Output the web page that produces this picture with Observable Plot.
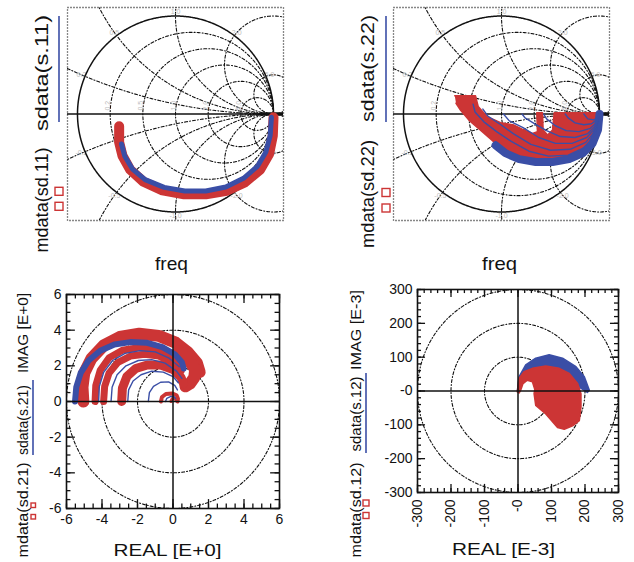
<!DOCTYPE html>
<html><head><meta charset="utf-8">
<script src="https://cdn.jsdelivr.net/npm/d3@7"></script>
<script src="https://cdn.jsdelivr.net/npm/@observablehq/plot@0.6"></script>
<style>
body{margin:0;background:#fff;}
#wrap{position:relative;width:634px;height:562px;overflow:hidden;font-family:"Liberation Sans",Arial,sans-serif;background:#fff;}
#wrap > svg{position:absolute;margin:0;}
</style></head><body><div id="wrap"></div>
<script>
const RED = "#cc3535", BLUE = "#3a4ea6";

// ---------- Smith chart grid values ----------
const smithR = [0.2, 0.5, 1, 2, 5];
const smithX = [0.2, 0.5, 1, 2, 5];
const smithLabels = ["0.2", "0.5", "1.0", "2.0", "5.0"];

// ---------- S11 (Gamma re, im) ----------
const s11Red = [[-0.575,-0.126],[-0.575,-0.289],[-0.541,-0.426],[-0.463,-0.568],[-0.327,-0.691],[-0.133,-0.779],[0.088,-0.82],[0.309,-0.82],[0.523,-0.783],[0.707,-0.698],[0.864,-0.568],[0.955,-0.408],[0.993,-0.221],[1.0,-0.034]];
const s11Blue = [[-0.551,-0.306],[-0.517,-0.432],[-0.439,-0.562],[-0.31,-0.67],[-0.116,-0.749],[0.095,-0.786],[0.309,-0.786],[0.513,-0.745],[0.694,-0.657],[0.836,-0.534],[0.921,-0.391],[0.966,-0.221],[0.979,-0.034]];

// ---------- S22 ----------
const s22RedArea = [[-0.477,0.185],[-0.265,0.185],[-0.238,0.076],[-0.146,-0.027],[-0.009,-0.088],[0.128,-0.113],[0.231,-0.164],[0.316,-0.198],[0.367,-0.181],[0.36,0.014],[0.418,0.014],[0.425,-0.164],[0.47,-0.215],[0.521,-0.164],[0.538,0.014],[0.999,0.014],[0.993,-0.13],[0.949,-0.266],[0.863,-0.352],[0.744,-0.41],[0.59,-0.444],[0.418,-0.454],[0.247,-0.444],[0.077,-0.386],[-0.06,-0.3],[-0.197,-0.181],[-0.333,-0.062],[-0.419,0.041],[-0.464,0.11]];
const s22BlueBand = [[1.0,0],[0.985,-0.16],[0.93,-0.3],[0.83,-0.4],[0.69,-0.46],[0.52,-0.49],[0.35,-0.49],[0.18,-0.46],[0.04,-0.4],[-0.06,-0.32]];
const s22Blue1 = [[1,0],[0.96,-0.2],[0.85,-0.34],[0.68,-0.42],[0.48,-0.43],[0.28,-0.38],[0.1,-0.28],[-0.05,-0.18],[-0.18,-0.08],[-0.27,0.02],[-0.29,0.1]];
const s22Blue2 = [[1,0],[0.96,-0.17],[0.86,-0.29],[0.7,-0.36],[0.5,-0.37],[0.3,-0.31],[0.12,-0.2],[-0.02,-0.1],[-0.14,-0.02],[-0.19,0.05]];
const s22Blue3 = [[1,0],[0.96,-0.14],[0.87,-0.24],[0.72,-0.3],[0.55,-0.3],[0.38,-0.24],[0.22,-0.14],[0.08,-0.07],[0.02,0.0]];
const s22Blue4 = [[1,0],[0.96,-0.12],[0.88,-0.2],[0.75,-0.24],[0.6,-0.23],[0.46,-0.17],[0.34,-0.1],[0.24,-0.04],[0.21,0.0]];
const s22Blue5 = [[1,0],[0.97,-0.09],[0.9,-0.15],[0.79,-0.18],[0.66,-0.17],[0.55,-0.12],[0.46,-0.05],[0.43,0.0]];
const s22Blue6 = [[1,0],[0.97,-0.06],[0.92,-0.1],[0.84,-0.11],[0.75,-0.09],[0.68,-0.04],[0.65,0]];
const s22Blue7 = [[1,0],[0.98,-0.04],[0.94,-0.06],[0.88,-0.05],[0.84,0]];

// ---------- S21 (E+0) ----------
const S21_TICKS = [-6,-4,-2,0,2,4,6];
const S21_RINGS = [2,4,6];
const s21R1 = [[-5.05,0],[-5.1,0.8],[-5.0,1.6],[-4.6,2.4],[-3.9,3.15],[-3.0,3.62],[-1.9,3.8],[-0.8,3.68],[0.15,3.3],[0.85,2.75],[1.35,2.15],[1.5,1.65]];
const s21R1b = [[0.3,2.8],[0.9,2.3],[1.25,1.8],[1.2,1.35],[0.95,1.0],[0.7,0.85]];
const s21R2 = [[-4.39,0],[-4.35,0.9],[-4.1,1.75],[-3.6,2.45],[-2.85,2.87],[-1.95,3.02],[-1.05,2.95],[-0.25,2.65],[0.35,2.2]];
const s21R3 = [[-3.91,0],[-3.85,0.85],[-3.6,1.6],[-3.1,2.2],[-2.4,2.55],[-1.6,2.65],[-0.8,2.55],[-0.05,2.2],[0.45,1.7]];
const s21R4 = [[-2.89,0],[-2.85,0.75],[-2.6,1.4],[-2.1,1.85],[-1.45,2.05],[-0.7,2.05],[0.0,1.8],[0.45,1.35],[0.6,1.0]];
const s21R5 = [[-0.68,0],[-0.62,0.25],[-0.4,0.42],[-0.05,0.45],[0.2,0.35],[0.28,0.15],[0.25,0.0]];
const s21R6 = [[-0.12,0],[-0.05,0.15],[0.1,0.18],[0.18,0.05]];
const s21B1 = [[-5.52,0],[-5.45,0.8],[-5.2,1.6],[-4.75,2.3],[-4.1,2.85],[-3.3,3.2],[-2.4,3.33],[-1.5,3.3],[-0.6,3.05],[0.1,2.65],[0.5,2.2],[0.6,1.85]];
const s21B2 = [[-4.19,0],[-4.15,0.85],[-3.9,1.65],[-3.4,2.3],[-2.7,2.7],[-1.85,2.85],[-1.0,2.78],[-0.25,2.45],[0.35,1.95]];
const s21B3 = [[-3.49,0],[-3.43,0.8],[-3.15,1.5],[-2.65,2.0],[-1.95,2.3],[-1.2,2.35],[-0.45,2.15],[0.2,1.7],[0.5,1.3]];
const s21B4 = [[-2.55,0],[-2.5,0.65],[-2.25,1.15],[-1.8,1.5],[-1.2,1.7],[-0.55,1.65],[0.0,1.4],[0.3,1.05]];
const s21B5 = [[-1.39,0],[-1.33,0.5],[-1.1,0.85],[-0.7,1.08],[-0.25,1.1],[0.1,0.9],[0.25,0.65]];
const s21B6 = [[-0.42,0],[-0.35,0.18],[-0.15,0.28],[0.05,0.28],[0.15,0.15]];

// ---------- S12 (E-3) ----------
const S12_TICKS = [-300,-200,-100,0,100,200,300];
const S12_RINGS = [100,200,300];
const s12BlueArea = [[-2,0],[3,42],[23,77],[53,97],[93,107],[133,97],[173,72],[198,42],[213,2],[207,-4],[185,10],[160,40],[120,60],[80,65],[45,50],[20,35],[5,15],[0,0]];
const s12RedArea = [[-2,-3],[3,37],[18,57],[43,67],[83,74],[123,67],[153,52],[178,22],[188,-8],[188,-48],[183,-88],[163,-103],[138,-113],[118,-108],[83,-68],[53,-43],[48,-8],[50,5],[43,27],[28,32],[15,22],[8,2],[3,-6]];

// ---------- helpers ----------
const rows = (pts) => pts.map(([x, y]) => ({x, y}));
function circle(cx, cy, r, id, n = 720) {
  const out = [];
  for (let i = 0; i <= n; i++) {
    const a = (i / n) * 2 * Math.PI;
    out.push({x: cx + r * Math.cos(a), y: cy + r * Math.sin(a), id});
  }
  return out;
}
const line = (pts, color, w) => Plot.line(rows(pts), {x: "x", y: "y", stroke: color, strokeWidth: w, strokeLinejoin: "round", strokeLinecap: "round"});
const area = (pts, color) => Plot.line(rows(pts), {x: "x", y: "y", fill: color, stroke: color, strokeWidth: 1.5, strokeLinejoin: "round"});

const wrap = document.getElementById("wrap");
const FONT = "Liberation Sans, Arial, Helvetica, sans-serif";

function place(svg, left, top) {
  svg.style.position = "absolute";
  svg.style.left = left + "px";
  svg.style.top = top + "px";
  svg.style.background = "transparent";
  wrap.appendChild(svg);
}

// ---------- Smith panels ----------
function smithPanel(dataMarks, left, top) {
  const grid = [];
  smithR.forEach(r => grid.push(...circle(r / (1 + r), 0, 1 / (1 + r), "r" + r)));
  smithX.forEach(x => {
    grid.push(...circle(1, 1 / x, 1 / x, "xp" + x, 2000));
    grid.push(...circle(1, -1 / x, 1 / x, "xn" + x, 2000));
  });
  const reactLabels = [];
  smithX.forEach((x, i) => {
    const d = x * x + 1;
    reactLabels.push({x: 1.04 * (x * x - 1) / d, y: 1.04 * 2 * x / d, t: smithLabels[i]});
    reactLabels.push({x: 1.04 * (x * x - 1) / d, y: -1.04 * 2 * x / d, t: "-" + smithLabels[i]});
  });
  const resLabels = smithR.map((r, i) => ({x: (r - 1) / (r + 1) - 0.02, y: 0.085, t: smithLabels[i]}));
  const svg = Plot.plot({
    width: 220, height: 217,
    marginLeft: 2, marginRight: 2, marginTop: 2, marginBottom: 2,
    x: {domain: [-1.102, 1.102], axis: null},
    y: {domain: [-1.087, 1.087], axis: null},
    style: {fontFamily: FONT, background: "transparent"},
    marks: [
      Plot.line(grid, {x: "x", y: "y", z: "id", stroke: "#111", strokeWidth: 1.1, strokeDasharray: "3,2,1,2", clip: true}),
      Plot.text(reactLabels, {x: "x", y: "y", text: "t", fill: "#bdbdbd", fontSize: 7}),
      Plot.text(resLabels, {x: "x", y: "y", text: "t", fill: "#bdbdbd", fontSize: 7, rotate: -90}),
      Plot.line(circle(0, 0, 1, "u"), {x: "x", y: "y", stroke: "#111", strokeWidth: 1.5}),
      Plot.ruleY([0], {x1: -1.102, x2: 1.102, stroke: "#111", strokeWidth: 1.5}),
      Plot.ruleY([0], {x1: 0.88, x2: 1.102, stroke: "#111", strokeWidth: 3.5}),
      Plot.frame({stroke: "#111", strokeWidth: 1.3, strokeDasharray: "1,2"}),
      ...dataMarks
    ]
  });
  place(svg, left, top);
}

smithPanel([
  line(s11Red, RED, 10),
  line(s11Blue, BLUE, 5)
], 65, 5);

smithPanel([
  area(s22RedArea, RED),
  line(s22BlueBand, BLUE, 8),
  line(s22Blue1, BLUE, 1.4),
  line(s22Blue2, BLUE, 1.4),
  line(s22Blue3, BLUE, 1.4),
  line(s22Blue4, BLUE, 1.4),
  line(s22Blue5, BLUE, 1.4),
  line(s22Blue6, BLUE, 1.4),
  line(s22Blue7, BLUE, 1.4)
], 391, 5);

// ---------- Polar panels ----------
function polarPanel(opts) {
  const {lim, ticks, rings, minorStep, minorLen, majorLen, fmt, rotateX, dataMarks, left, top, width, height, mL, mR, mT, mB} = opts;
  const minor = d3.range(-lim, lim + minorStep / 2, minorStep);
  const ringPts = [];
  rings.forEach(r => ringPts.push(...circle(0, 0, r, "c" + r)));
  const tickMarks = (vals, len) => [
    Plot.ruleX(vals, {x: d => d, y1: -lim, y2: -lim + len, stroke: "#111", strokeWidth: 1.3}),
    Plot.ruleX(vals, {x: d => d, y1: lim - len, y2: lim, stroke: "#111", strokeWidth: 1.3}),
    Plot.ruleY(vals, {y: d => d, x1: -lim, x2: -lim + len, stroke: "#111", strokeWidth: 1.3}),
    Plot.ruleY(vals, {y: d => d, x1: lim - len, x2: lim, stroke: "#111", strokeWidth: 1.3})
  ];
  const svg = Plot.plot({
    width, height,
    marginLeft: mL, marginRight: mR, marginTop: mT, marginBottom: mB,
    x: {domain: [-lim, lim]},
    y: {domain: [-lim, lim]},
    style: {fontFamily: FONT, fontSize: "14px", color: "#111", background: "transparent"},
    marks: [
      Plot.line(ringPts, {x: "x", y: "y", z: "id", stroke: "#111", strokeWidth: 1.1, strokeDasharray: "3,2,1,2", clip: true}),
      ...dataMarks,
      Plot.ruleX([0], {stroke: "#111", strokeWidth: 1.5}),
      Plot.ruleY([0], {stroke: "#111", strokeWidth: 1.5}),
      ...tickMarks(minor, minorLen),
      ...tickMarks(ticks, majorLen),
      Plot.frame({stroke: "#111", strokeWidth: 1.6}),
      Plot.axisY({ticks, tickSize: 0, tickPadding: 5, tickFormat: fmt, label: null, fontSize: 14}),
      rotateX
        ? Plot.axisX({ticks, tickSize: 0, tickPadding: 7, tickRotate: -90, tickFormat: fmt, label: null, fontSize: 14})
        : Plot.axisX({ticks, tickSize: 0, tickPadding: 6, tickFormat: fmt, label: null, fontSize: 14})
    ]
  });
  place(svg, left, top);
}

polarPanel({
  lim: 6, ticks: S21_TICKS, rings: S21_RINGS, minorStep: 0.5, minorLen: 0.25, majorLen: 0.5,
  fmt: d => String(d), rotateX: false,
  dataMarks: [
    line(s21R1, RED, 12), line(s21R1b, RED, 12), line(s21R2, RED, 7), line(s21R3, RED, 7),
    line(s21R4, RED, 9), line(s21R5, RED, 4), line(s21R6, RED, 3),
    line(s21B1, BLUE, 6), line(s21B2, BLUE, 1.4), line(s21B3, BLUE, 1.4), line(s21B4, BLUE, 1.4),
    line(s21B5, BLUE, 1.4), line(s21B6, BLUE, 1.4)
  ],
  left: 30, top: 286, width: 261, height: 250, mL: 36, mR: 12, mT: 8, mB: 28
});

polarPanel({
  lim: 300, ticks: S12_TICKS, rings: S12_RINGS, minorStep: 20, minorLen: 12, majorLen: 24,
  fmt: d => d === 0 ? "-0" : String(d), rotateX: true,
  dataMarks: [area(s12BlueArea, BLUE), area(s12RedArea, RED)],
  left: 378, top: 281, width: 254, height: 261, mL: 39, mR: 14, mT: 8, mB: 50
});

// ---------- Labels & legend overlay ----------
const labels = [
  ["mdata(sd.11)", 41.5, 200, -90, 19, 105],
  ["sdata(s.11)", 41.5, 73, -90, 19, 116],
  ["freq", 171.5, 263, 0, 19, 33],
  ["mdata(sd.22)", 367.5, 194, -90, 19, 108],
  ["sdata(s.22)", 367.5, 68.5, -90, 19, 107],
  ["freq", 499.5, 263, 0, 19, 35],
  ["mdata(sd.21)", 22.5, 510, -90, 15, 95],
  ["sdata(s.21)", 22.5, 420, -90, 15, 70],
  ["IMAG [E+0]", 22.5, 333, -90, 15, 80],
  ["REAL [E+0]", 167.5, 550.5, 0, 16, 108],
  ["mdata(sd.12)", 355, 510, -90, 15, 95],
  ["sdata(s.12)", 355, 414, -90, 15, 75],
  ["IMAG [E-3]", 355, 330, -90, 15, 80],
  ["REAL [E-3]", 503.5, 549, 0, 16, 103]
];
const legendLines = [[59, 16, 59, 122], [386, 16, 386, 122], [33, 380, 33, 455], [366, 373, 366, 453]];
const legendSquares = [[55, 187.3, 8], [55, 202.3, 8], [382, 188.5, 8], [382, 204, 8], [31, 503, 4.5], [31, 514.5, 4.5], [363, 500, 6], [363, 512.5, 6]];

const ov = d3.select(wrap).append("svg")
  .attr("width", 634).attr("height", 562)
  .style("position", "absolute").style("left", "0px").style("top", "0px")
  .style("pointer-events", "none");
ov.selectAll("text.lab").data(labels).join("text")
  .attr("class", "lab")
  .attr("transform", d => `translate(${d[1]},${d[2]}) rotate(${d[3]})`)
  .attr("text-anchor", "middle")
  .attr("dominant-baseline", "central")
  .attr("font-family", FONT)
  .attr("font-size", d => d[4])
  .attr("fill", "#111")
  .attr("textLength", d => d[5])
  .attr("lengthAdjust", "spacingAndGlyphs")
  .text(d => d[0]);
ov.selectAll("line.leg").data(legendLines).join("line")
  .attr("x1", d => d[0]).attr("y1", d => d[1]).attr("x2", d => d[2]).attr("y2", d => d[3])
  .attr("stroke", BLUE).attr("stroke-width", 1.6);
ov.selectAll("rect.leg").data(legendSquares).join("rect")
  .attr("x", d => d[0]).attr("y", d => d[1]).attr("width", d => d[2]).attr("height", d => d[2])
  .attr("fill", "none").attr("stroke", RED).attr("stroke-width", 1.4);
</script></body></html>
